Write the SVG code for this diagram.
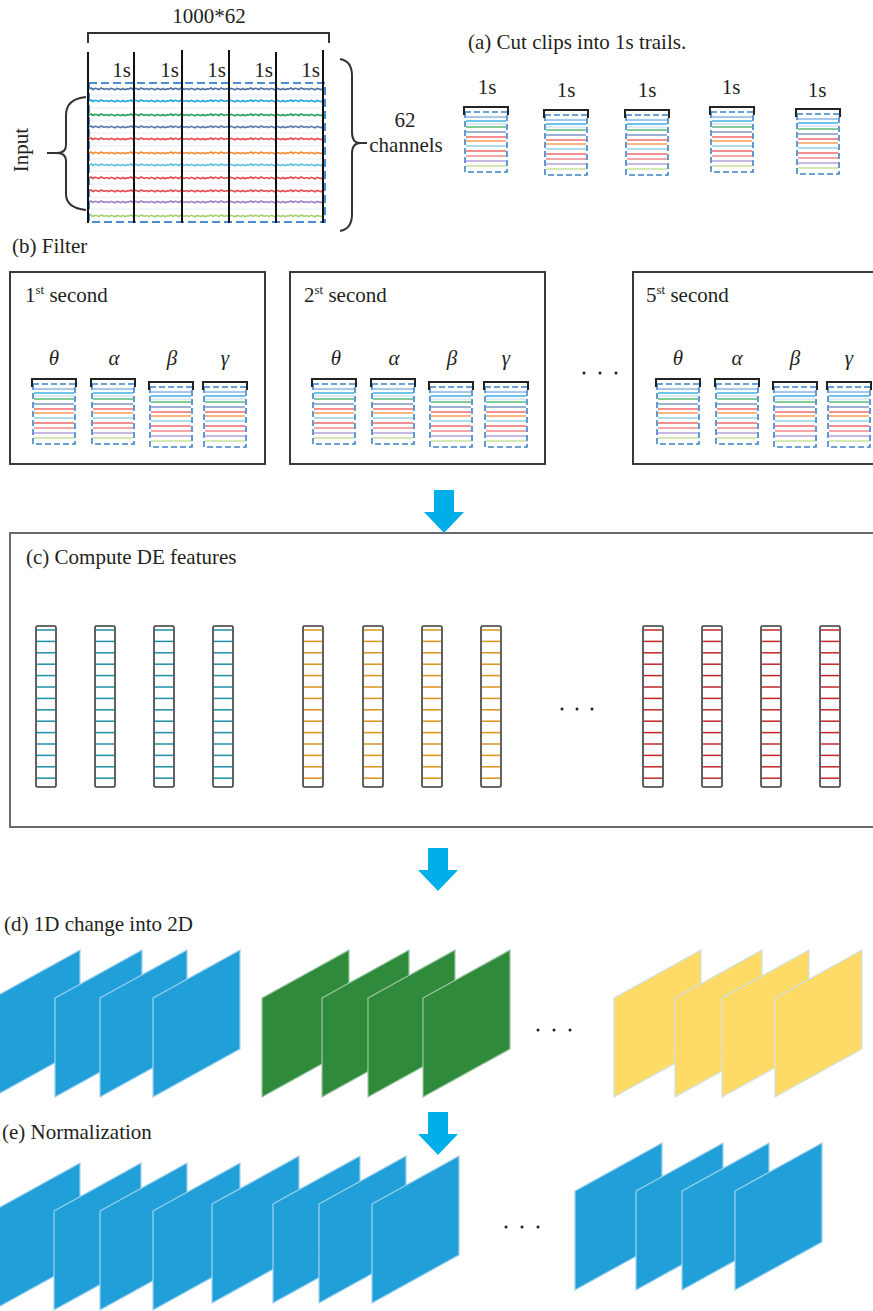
<svg xmlns="http://www.w3.org/2000/svg" width="873" height="1311" viewBox="0 0 873 1311" font-family="'Liberation Serif', 'DejaVu Serif', serif">
<style>
text{font-family:'Liberation Serif','DejaVu Serif',serif;fill:#231f20}
.t{font-size:21px}
.g{font-size:21px;font-style:italic}
.box{fill:none;stroke:#3a3a3a;stroke-width:2}
.vl{stroke:#111;stroke-width:2}
.br{fill:none;stroke:#333;stroke-width:2}
.arr{fill:#00aee8}
.pb{fill:#219fd9;stroke:#9fd2ee;stroke-width:1.2}
.pg{fill:#2f8a3b;stroke:#9fc8a6;stroke-width:1.2}
.py{fill:#fedb67;stroke:#cfe0ea;stroke-width:1.2}
.dot{fill:#222}
</style>
<defs>
<path id="wig" fill="none" stroke-width="1.6" d="M0 0 l2 -1 l2 1.5 l2 -1.2 l2 0.4 l2 0.8 l2 -1.6 l2 1 l2 0.3 l2 -0.7 l2 1.1 l2 -1.3 l2 0.6 l2 0.9 l2 -1.4 l2 0.5 l2 0.7 l2 -1.1 l2 1.2 l2 -0.8 l2 0.1 l2 -1 l2 1.5 l2 -1.2 l2 0.4 l2 0.8 l2 -1.6 l2 1 l2 0.3 l2 -0.7 l2 1.1 l2 -1.3 l2 0.6 l2 0.9 l2 -1.4 l2 0.5 l2 0.7 l2 -1.1 l2 1.2 l2 -0.8 l2 0.1 l2 -1 l2 1.5 l2 -1.2 l2 0.4 l2 0.8 l2 -1.6 l2 1 l2 0.3 l2 -0.7 l2 1.1 l2 -1.3 l2 0.6 l2 0.9 l2 -1.4 l2 0.5 l2 0.7 l2 -1.1 l2 1.2 l2 -0.8 l2 0.1 l2 -1 l2 1.5 l2 -1.2 l2 0.4 l2 0.8 l2 -1.6 l2 1 l2 0.3 l2 -0.7 l2 1.1 l2 -1.3 l2 0.6 l2 0.9 l2 -1.4 l2 0.5 l2 0.7 l2 -1.1 l2 1.2 l2 -0.8 l2 0.1 l2 -1 l2 1.5 l2 -1.2 l2 0.4 l2 0.8 l2 -1.6 l2 1 l2 0.3 l2 -0.7 l2 1.1 l2 -1.3 l2 0.6 l2 0.9 l2 -1.4 l2 0.5 l2 0.7 l2 -1.1 l2 1.2 l2 -0.8 l2 0.1 l2 -1 l2 1.5 l2 -1.2 l2 0.4 l2 0.8 l2 -1.6 l2 1 l2 0.3 l2 -0.7 l2 1.1 l2 -1.3 l2 0.6 l2 0.9 l2 -1.4 l2 0.5 l2 0.7 l2 -1.1 l2 1.2 l2 -0.8 l2 0.1"/>
<clipPath id="sigclip"><rect x="89" y="84" width="235" height="138"/></clipPath>
<g id="clip">
<g stroke-width="1.3">
<line x1="2" y1="10" x2="42" y2="10" stroke="#8ab4e0"/>
<line x1="2" y1="14" x2="42" y2="14" stroke="#3fb0e8"/>
<line x1="2" y1="17" x2="42" y2="17" stroke="#d6e6f2"/>
<line x1="2" y1="20" x2="42" y2="20" stroke="#5cb87a"/>
<line x1="2" y1="25" x2="42" y2="25" stroke="#7d97c4"/>
<line x1="2" y1="30" x2="42" y2="30" stroke="#f06a6f"/>
<line x1="2" y1="34" x2="42" y2="34" stroke="#f5a05a"/>
<line x1="2" y1="39" x2="42" y2="39" stroke="#8fd3ea"/>
<line x1="2" y1="44" x2="42" y2="44" stroke="#ef6a6e"/>
<line x1="2" y1="49" x2="42" y2="49" stroke="#f08a8e"/>
<line x1="2" y1="54" x2="42" y2="54" stroke="#b5a3d8"/>
<line x1="2" y1="59" x2="42" y2="59" stroke="#c5e09a"/>
</g>
<rect x="1" y="5" width="42" height="60" fill="none" stroke="#3b82c8" stroke-width="1.6" stroke-dasharray="6 3"/>
<path d="M0 8 V0 H44 V8" fill="none" stroke="#222" stroke-width="2"/>
</g>
<g id="col">
<rect x="0" y="0" width="20" height="161" rx="1.5" fill="#fff" stroke="#3a3a3a" stroke-width="1.6"/>
<g stroke="currentColor" stroke-width="1.5">
<line x1="1" y1="4" x2="19" y2="4"/><line x1="1" y1="15.4" x2="19" y2="15.4"/><line x1="1" y1="26.8" x2="19" y2="26.8"/><line x1="1" y1="38.2" x2="19" y2="38.2"/><line x1="1" y1="49.6" x2="19" y2="49.6"/><line x1="1" y1="61" x2="19" y2="61"/><line x1="1" y1="72.4" x2="19" y2="72.4"/><line x1="1" y1="83.8" x2="19" y2="83.8"/><line x1="1" y1="95.2" x2="19" y2="95.2"/><line x1="1" y1="106.6" x2="19" y2="106.6"/><line x1="1" y1="118" x2="19" y2="118"/><line x1="1" y1="129.4" x2="19" y2="129.4"/><line x1="1" y1="140.8" x2="19" y2="140.8"/><line x1="1" y1="152.2" x2="19" y2="152.2"/>
</g>
</g>
<path id="par" d="M0 48 L87 0 L87 99 L0 147 Z"/>
<polygon id="arrow" points="-10,-43 10,-43 10,-21 20,-21 0,0 -20,-21 -10,-21"/>
</defs>
<rect width="873" height="1311" fill="#fff"/>

<g id="input">
<text class="t" x="209" y="23" text-anchor="middle" font-size="20">1000*62</text>
<path class="br" d="M88 43 V33 H329 V43"/>
<g stroke="#dbe8f2" stroke-width="0.8">
<line x1="89" y1="95" x2="324" y2="95"/><line x1="89" y1="108" x2="324" y2="108"/><line x1="89" y1="121" x2="324" y2="121"/><line x1="89" y1="133" x2="324" y2="133"/><line x1="89" y1="146" x2="324" y2="146"/><line x1="89" y1="159" x2="324" y2="159"/><line x1="89" y1="171" x2="324" y2="171"/><line x1="89" y1="184" x2="324" y2="184"/><line x1="89" y1="197" x2="324" y2="197"/><line x1="89" y1="209" x2="324" y2="209"/>
</g>
<g clip-path="url(#sigclip)">
<use href="#wig" x="89" y="89" stroke="#4a6fa5"/>
<use href="#wig" x="89" y="101" stroke="#1ea7e1"/>
<use href="#wig" x="89" y="115" stroke="#22a05a"/>
<use href="#wig" x="89" y="127" stroke="#5577aa"/>
<use href="#wig" x="89" y="139" stroke="#e8474c"/>
<use href="#wig" x="89" y="153" stroke="#f28a30"/>
<use href="#wig" x="89" y="165" stroke="#5bc0de"/>
<use href="#wig" x="89" y="178" stroke="#e8474c"/>
<use href="#wig" x="89" y="191" stroke="#e8474c"/>
<use href="#wig" x="89" y="202" stroke="#9b7fc6"/>
<use href="#wig" x="89" y="216" stroke="#a6d06f"/>
</g>
<rect x="89" y="83" width="236" height="139" fill="none" stroke="#4a8fd6" stroke-width="2" stroke-dasharray="8 4"/>
<g class="vl">
<line x1="88" y1="52" x2="88" y2="223"/><line x1="134" y1="52" x2="134" y2="223"/><line x1="182" y1="50" x2="182" y2="223"/><line x1="229" y1="50" x2="229" y2="223"/><line x1="276" y1="52" x2="276" y2="223"/><line x1="323" y1="50" x2="323" y2="223"/>
</g>
<g class="t" text-anchor="end">
<text x="131" y="77">1s</text><text x="179" y="77">1s</text><text x="226" y="77">1s</text><text x="273" y="77">1s</text><text x="320" y="77">1s</text>
</g>
<path class="br" d="M86 97 Q66 99 66 115 V145 Q66 153 57 153 Q66 153 66 161 V194 Q66 208 86 210"/>
<line x1="47" y1="153" x2="58" y2="153" stroke="#333" stroke-width="2"/>
<text class="t" transform="translate(28 150) rotate(-90)" text-anchor="middle">Input</text>
<path class="br" d="M340 59 Q352 61 352 76 V132 Q352 143 360 143 Q352 143 352 154 V214 Q352 229 340 231"/>
<line x1="359" y1="143" x2="367" y2="143" stroke="#333" stroke-width="2"/>
<text class="t" x="405" y="127" text-anchor="middle">62</text>
<text class="t" x="406" y="152" text-anchor="middle">channels</text>
</g>

<g id="clips-a">
<text class="t" x="468" y="49">(a) Cut clips into 1s trails.</text>
<g class="t" text-anchor="middle">
<text x="487" y="94">1s</text><text x="566" y="97">1s</text><text x="647" y="97">1s</text><text x="731" y="94">1s</text><text x="817" y="97">1s</text>
</g>
<use href="#clip" x="464" y="107"/>
<use href="#clip" x="544" y="110"/>
<use href="#clip" x="625" y="110"/>
<use href="#clip" x="710" y="107"/>
<use href="#clip" x="796" y="109"/>
</g>

<text class="t" x="12" y="253">(b) Filter</text>

<g id="filter-1">
<rect class="box" x="10" y="272" width="255" height="192"/>
<text class="t" x="25" y="302">1<tspan font-size="13" dy="-8">st</tspan><tspan dy="8"> second</tspan></text>
<g class="g" text-anchor="middle"><text x="54" y="365">θ</text><text x="114" y="365">α</text><text x="172" y="365">β</text><text x="225" y="365">γ</text></g>
<use href="#clip" x="32" y="379"/><use href="#clip" x="91" y="379"/><use href="#clip" x="149" y="382"/><use href="#clip" x="203" y="382"/>
</g>
<g id="filter-2">
<rect class="box" x="290" y="272" width="255" height="192"/>
<text class="t" x="304" y="302">2<tspan font-size="13" dy="-8">st</tspan><tspan dy="8"> second</tspan></text>
<g class="g" text-anchor="middle"><text x="336" y="365">θ</text><text x="394" y="365">α</text><text x="452" y="365">β</text><text x="506" y="365">γ</text></g>
<use href="#clip" x="312" y="379"/><use href="#clip" x="371" y="379"/><use href="#clip" x="429" y="382"/><use href="#clip" x="484" y="382"/>
</g>
<g id="dots-b"><circle class="dot" cx="584" cy="373" r="1.5"/><circle class="dot" cx="600" cy="373" r="1.5"/><circle class="dot" cx="616" cy="373" r="1.5"/></g>
<g id="filter-5">
<rect class="box" x="633" y="272" width="270" height="192"/>
<text class="t" x="646" y="302">5<tspan font-size="13" dy="-8">st</tspan><tspan dy="8"> second</tspan></text>
<g class="g" text-anchor="middle"><text x="678" y="365">θ</text><text x="737" y="365">α</text><text x="795" y="365">β</text><text x="849" y="365">γ</text></g>
<use href="#clip" x="656" y="379"/><use href="#clip" x="715" y="379"/><use href="#clip" x="773" y="382"/><use href="#clip" x="827" y="382"/>
</g>

<g id="de-features">
<rect x="10" y="533" width="900" height="294" fill="none" stroke="#6a6a6a" stroke-width="2"/>
<text class="t" x="26" y="564">(c) Compute DE features</text>
<g color="#1f8fa8">
<use href="#col" x="36" y="626"/><use href="#col" x="95" y="626"/><use href="#col" x="154" y="626"/><use href="#col" x="213" y="626"/>
</g>
<g color="#d9941c">
<use href="#col" x="303" y="626"/><use href="#col" x="363" y="626"/><use href="#col" x="422" y="626"/><use href="#col" x="481" y="626"/>
</g>
<g color="#c0272d">
<use href="#col" x="643" y="626"/><use href="#col" x="702" y="626"/><use href="#col" x="761" y="626"/><use href="#col" x="820" y="626"/>
</g>
<circle class="dot" cx="562" cy="709" r="1.5"/><circle class="dot" cx="577" cy="709" r="1.5"/><circle class="dot" cx="592" cy="709" r="1.5"/>
</g>

<g id="maps-2d">
<text class="t" x="4" y="931">(d) 1D change into 2D</text>
<g class="pb"><use href="#par" x="-7" y="950"/><use href="#par" x="55" y="950"/><use href="#par" x="100" y="950"/><use href="#par" x="153" y="950"/></g>
<g class="pg"><use href="#par" x="262" y="950"/><use href="#par" x="322" y="950"/><use href="#par" x="368" y="950"/><use href="#par" x="423" y="950"/></g>
<g class="py"><use href="#par" x="614" y="950"/><use href="#par" x="675" y="950"/><use href="#par" x="722" y="950"/><use href="#par" x="775" y="950"/></g>
<circle class="dot" cx="538" cy="1030" r="1.5"/><circle class="dot" cx="554" cy="1030" r="1.5"/><circle class="dot" cx="570" cy="1030" r="1.5"/>
</g>

<g id="normalization">
<text class="t" x="2" y="1139">(e) Normalization</text>
<g class="pb">
<use href="#par" x="-7" y="1163"/><use href="#par" x="54" y="1163"/><use href="#par" x="100" y="1163"/><use href="#par" x="153" y="1163"/>
<use href="#par" x="212" y="1156"/><use href="#par" x="273" y="1156"/><use href="#par" x="319" y="1156"/><use href="#par" x="372" y="1156"/>
<use href="#par" x="575" y="1143"/><use href="#par" x="636" y="1143"/><use href="#par" x="682" y="1143"/><use href="#par" x="735" y="1143"/>
</g>
<circle class="dot" cx="506" cy="1227" r="1.5"/><circle class="dot" cx="522" cy="1227" r="1.5"/><circle class="dot" cx="538" cy="1227" r="1.5"/>
</g>

<g id="connectors">
<use class="arr" href="#arrow" x="444" y="533"/>
<use class="arr" href="#arrow" x="438" y="891"/>
<use class="arr" href="#arrow" x="438" y="1155"/>
</g>
</svg>
